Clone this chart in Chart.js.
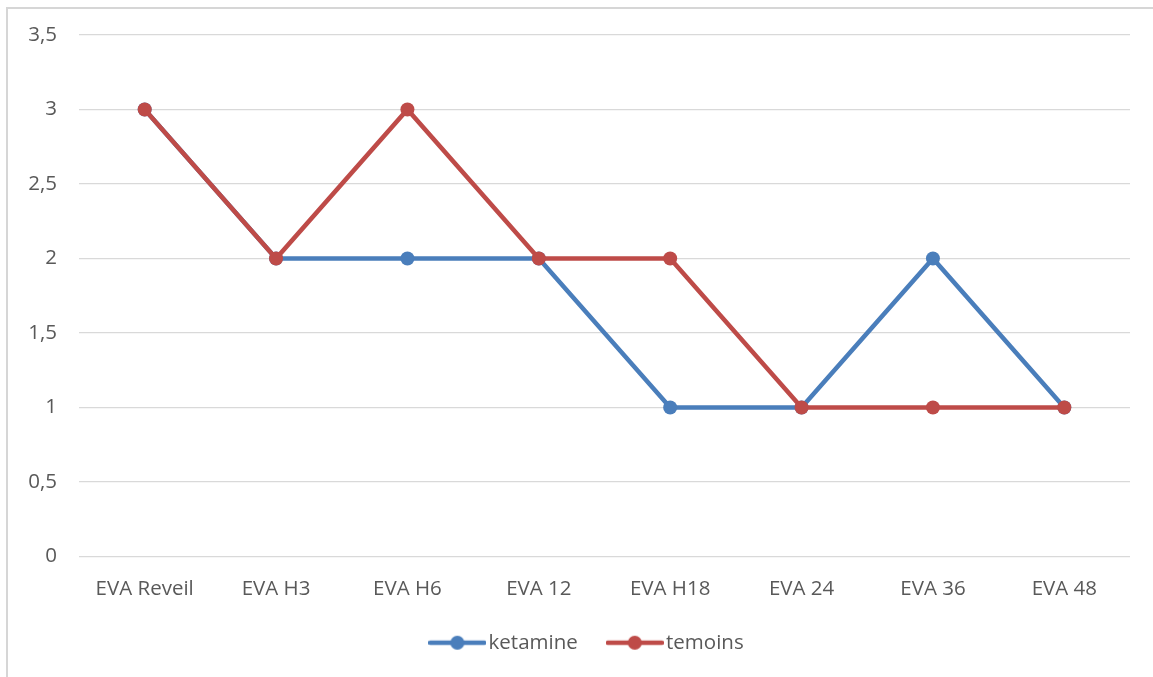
<!DOCTYPE html>
<html>
<head>
<meta charset="utf-8">
<title>EVA ketamine / temoins</title>
<script src="https://cdn.jsdelivr.net/npm/chart.js@4/dist/chart.umd.min.js"></script>
<style>
  html, body { margin: 0; padding: 0; background: #ffffff; }
  #wrap { position: relative; width: 1153px; height: 677px; overflow: hidden; }
  #frame { position: absolute; left: 6px; top: 7px; width: 1200px; height: 700px;
           border-left: 2px solid #d6d6d6; border-top: 2px solid #d6d6d6; box-sizing: border-box; }
  #c { position: absolute; left: 0; top: 0; }
</style>
</head>
<body>
<div id="wrap">
  <div id="frame"></div>
  <canvas id="c" width="1153" height="677"></canvas>
</div>
<script>
// Pain scores (EVA) at each time point
const categories = ['EVA Reveil', 'EVA H3', 'EVA H6', 'EVA 12', 'EVA H18', 'EVA 24', 'EVA 36', 'EVA 48'];
const ketamine = [3, 2, 2, 2, 1, 1, 2, 1];
const temoins  = [3, 2, 3, 2, 2, 1, 1, 1];
const seriesNames = ['ketamine', 'temoins'];

const BLUE = '#4a7ebb';
const RED = '#be4b48';
const TEXT = '#595959';
const GRID = '#d9d9d9';
const FONT = "'Open Sans', 'Noto Sans', sans-serif";
const FSIZE = 20.5;
const LINE_W = 4.5;
const DOT_R = 7;

// Legend swatch: short line with a round marker in the middle
function swatch(color) {
  const cv = document.createElement('canvas');
  cv.width = 58; cv.height = 18;
  const g = cv.getContext('2d');
  g.strokeStyle = color; g.lineWidth = LINE_W; g.lineCap = 'round';
  g.beginPath(); g.moveTo(2, 9); g.lineTo(56, 9); g.stroke();
  g.fillStyle = color;
  g.beginPath(); g.arc(29, 9, DOT_R, 0, Math.PI * 2); g.fill();
  return cv;
}

// Centre the legend under the plot area rather than the whole canvas
const legendShift = {
  id: 'legendShift',
  afterLayout(chart) {
    if (chart.legend) { chart.legend.left += 21; chart.legend.right += 21; }
  }
};

new Chart(document.getElementById('c'), {
  type: 'line',
  data: {
    labels: categories,
    datasets: [
      { label: seriesNames[0], data: ketamine, borderColor: BLUE, backgroundColor: BLUE,
        borderWidth: LINE_W, pointRadius: DOT_R, pointHoverRadius: DOT_R, pointBorderWidth: 0,
        pointStyle: 'circle', tension: 0, order: 1 },
      { label: seriesNames[1], data: temoins, borderColor: RED, backgroundColor: RED,
        borderWidth: LINE_W, pointRadius: DOT_R, pointHoverRadius: DOT_R, pointBorderWidth: 0,
        pointStyle: 'circle', tension: 0, order: 0 }
    ]
  },
  options: {
    responsive: false,
    animation: false,
    layout: { padding: { left: 8, right: 23, top: 35, bottom: 14 } },
    plugins: {
      tooltip: { enabled: false },
      legend: {
        position: 'bottom',
        labels: {
          usePointStyle: true,
          pointStyleWidth: 42,
          color: TEXT,
          font: { family: FONT, size: FSIZE },
          padding: 36,
          sort: (a, b) => a.datasetIndex - b.datasetIndex,
          generateLabels: (chart) => chart.data.datasets.map((ds, i) => ({
            text: ds.label,
            datasetIndex: i,
            pointStyle: swatch(ds.borderColor),
            fillStyle: ds.borderColor,
            strokeStyle: ds.borderColor,
            lineWidth: 0,
            fontColor: TEXT,
            hidden: false
          }))
        }
      }
    },
    scales: {
      x: {
        offset: true,
        grid: { display: false, drawTicks: false, offset: true },
        border: { display: false },
        ticks: { color: TEXT, font: { family: FONT, size: FSIZE }, padding: 20, maxRotation: 0 },
        afterFit: (s) => { s.height = 40; }
      },
      y: {
        min: 0, max: 3.5,
        grid: { color: GRID, lineWidth: 1.3, drawTicks: false },
        border: { display: false },
        ticks: {
          stepSize: 0.5, color: TEXT, font: { family: FONT, size: FSIZE }, padding: 22,
          callback: (v) => String(v).replace('.', ',')
        },
        afterFit: (s) => { s.width = 71; }
      }
    }
  },
  plugins: [legendShift]
});
</script>
</body>
</html>
